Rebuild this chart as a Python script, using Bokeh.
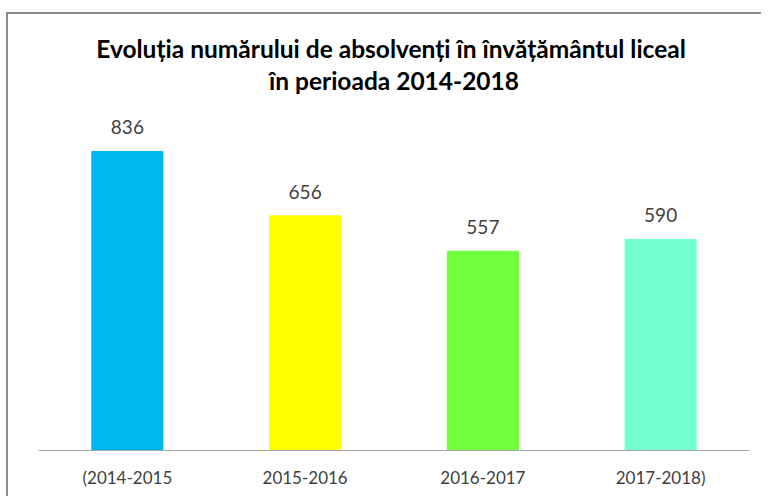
from bokeh.plotting import figure
from bokeh.models import ColumnDataSource, FixedTicker, Label, Range1d
from bokeh.core.properties import value
from bokeh.embed import file_html
from bokeh.resources import INLINE

categories = ["(2014-2015", "2015-2016", "2016-2017", "2017-2018)"]
values = [836, 656, 557, 590]
colors = ["#00B8F0", "#FFFF00", "#72FF3C", "#74FFD2"]
title_lines = ["Evoluția numărului de absolvenți  în învățământul liceal",
               "în perioada 2014-2018"]

FONT = "Lato"
positions = [i + 0.5 for i in range(len(categories))]
src = ColumnDataSource(dict(x=positions, top=values, color=colors,
                            label=[str(v) for v in values]))

p = figure(width=755, height=484, x_range=Range1d(0, 4), y_range=Range1d(0, 1219),
           output_backend="svg", toolbar_location=None,
           min_border_left=30, min_border_right=14, min_border_top=0, min_border_bottom=48)
p.margin = (12, 0, 0, 6)
p.styles = {"border-top": "2px solid #8c8c8c", "border-left": "2px solid #8c8c8c"}
p.outline_line_color = None
p.background_fill_color = "white"
p.border_fill_color = "white"
p.xgrid.visible = False
p.ygrid.visible = False
p.yaxis.visible = False

p.vbar(x="x", top="top", width=0.4, bottom=0, color="color", source=src)
p.text(x="x", y="top", text="label", source=src, text_align="center",
       text_baseline="bottom", y_offset=-17, text_font=value(FONT),
       text_font_size="19px", text_color="#404040")

ax = p.xaxis[0]
ax.ticker = FixedTicker(ticks=positions)
ax.major_label_overrides = {pos: c for pos, c in zip(positions, categories)}
ax.major_tick_line_color = None
ax.minor_tick_line_color = None
ax.major_tick_out = 0
ax.major_label_standoff = 16
ax.axis_line_color = "#a6a6a6"
ax.major_label_text_font = FONT
ax.major_label_text_font_size = "17px"
ax.major_label_text_color = "#404040"

for txt, yy in zip(title_lines, [1124, 1034]):
    p.add_layout(Label(x=2, y=yy, text=txt, text_align="center", text_baseline="middle",
                       text_font=FONT, text_font_style="bold", text_font_size="24.5px",
                       text_color="#000000"))

open("out.html", "w").write(file_html(p, INLINE))
